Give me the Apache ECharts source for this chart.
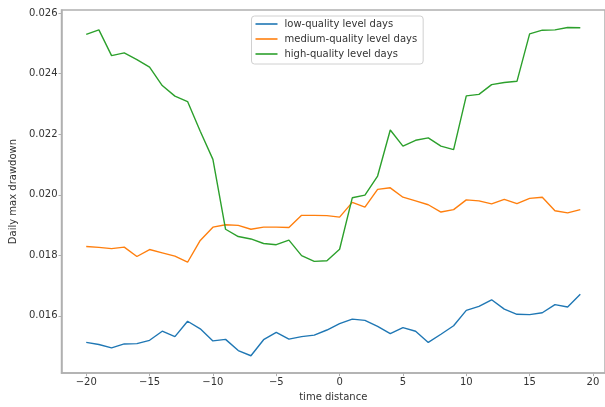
<!DOCTYPE html>
<html>
<head>
<meta charset="utf-8">
<script src="https://cdn.jsdelivr.net/npm/echarts@6/dist/echarts.min.js"></script>
<style>
  html, body { margin: 0; padding: 0; background: #fff; }
  #chart { width: 605px; height: 407px; }
</style>
</head>
<body>
<div id="chart"></div>
<script>
// Days relative to the event
const timeDistance = [];
for (let d = -20; d <= 19; d++) timeDistance.push(d);

const lowQuality = [
  0.01512, 0.01505, 0.01494, 0.01507, 0.01508, 0.01519, 0.01549, 0.01531, 0.01582, 0.01557,
  0.01517, 0.01522, 0.01485, 0.01468, 0.01521, 0.01545, 0.01523, 0.01531, 0.01536, 0.01553,
  0.01574, 0.01589, 0.01585, 0.01565, 0.01541, 0.01561, 0.01549, 0.01512, 0.01539, 0.01567,
  0.01618, 0.01631, 0.01653, 0.01622, 0.01605, 0.01604, 0.01610, 0.01637, 0.01629, 0.01671
];

const mediumQuality = [
  0.01829, 0.01826, 0.01822, 0.01827, 0.01796, 0.01819, 0.01808, 0.01797, 0.01777, 0.01849,
  0.01893, 0.01901, 0.01899, 0.01886, 0.01893, 0.01893, 0.01892, 0.01932, 0.01932, 0.01931,
  0.01926, 0.01975, 0.01959, 0.02018, 0.02023, 0.01992, 0.01980, 0.01967, 0.01943, 0.01951,
  0.01983, 0.01980, 0.01970, 0.01985, 0.01971, 0.01988, 0.01992, 0.01947, 0.01940, 0.01951
];

const highQuality = [
  0.02530, 0.02545, 0.02460, 0.02469, 0.02447, 0.02422, 0.02361, 0.02326, 0.02308, 0.02210,
  0.02117, 0.01886, 0.01862, 0.01854, 0.01839, 0.01835, 0.01850, 0.01799, 0.01780, 0.01782,
  0.01820, 0.01990, 0.01999, 0.02062, 0.02214, 0.02161, 0.02180, 0.02188, 0.02161, 0.02149,
  0.02327, 0.02332, 0.02364, 0.02371, 0.02375, 0.02532, 0.02544, 0.02545, 0.02553, 0.02552
];

const xTicks = [-20, -15, -10, -5, 0, 5, 10, 15, 20];
const yTicks = [0.016, 0.018, 0.020, 0.022, 0.024, 0.026];

const seriesNames = ['low-quality level days', 'medium-quality level days', 'high-quality level days'];
const seriesColors = ['#1f77b4', '#ff7f0e', '#2ca02c'];
const seriesValues = [lowQuality, mediumQuality, highQuality];

const FONT = 'DejaVu Sans';
const spineColor = '#b0b0b0';
const textColor = '#333';

const chart = echarts.init(document.getElementById('chart'), null, { renderer: 'canvas' });

chart.setOption({
  animation: false,
  backgroundColor: '#fff',
  grid: {
    left: 56.5, right: -9, top: 10, bottom: 26.7,
    show: true, borderColor: spineColor, borderWidth: 1.5,
    backgroundColor: 'transparent'
  },
  legend: {
    orient: 'vertical',
    left: 251.5, top: 16,
    width: 169,
    padding: [3, 6, 5, 4],
    itemGap: 5,
    itemWidth: 22, itemHeight: 1.6,
    icon: 'rect',
    borderColor: '#d0d0d0', borderWidth: 1, borderRadius: 3,
    backgroundColor: 'rgba(255,255,255,0.85)',
    textStyle: { fontFamily: FONT, fontSize: 10, color: textColor, padding: [0, 0, 0, 2] },
    data: seriesNames
  },
  xAxis: {
    type: 'value',
    min: -21.95, max: 20.95,
    name: 'time distance',
    nameLocation: 'middle', nameGap: 14,
    nameTextStyle: { fontFamily: FONT, fontSize: 10, color: textColor },
    axisLine: { show: true, onZero: false, lineStyle: { color: spineColor, width: 1.5 } },
    axisTick: { show: true, customValues: xTicks, length: 3, lineStyle: { color: spineColor } },
    axisLabel: {
      customValues: xTicks, margin: 4,
      fontFamily: FONT, fontSize: 10, color: textColor,
      formatter: v => (v < 0 ? '\u2212' + Math.abs(v) : String(v))
    },
    splitLine: { show: false }
  },
  yAxis: {
    type: 'value',
    min: 0.014106, max: 0.026107,
    name: 'Daily max drawdown',
    nameLocation: 'middle', nameGap: 41,
    nameTextStyle: { fontFamily: FONT, fontSize: 10, color: textColor },
    axisLine: { show: true, onZero: false, lineStyle: { color: spineColor, width: 1.5 } },
    axisTick: { show: true, customValues: yTicks, length: 3, lineStyle: { color: spineColor } },
    axisLabel: {
      customValues: yTicks, margin: 4,
      fontFamily: FONT, fontSize: 10, color: textColor,
      formatter: v => v.toFixed(3)
    },
    splitLine: { show: false }
  },
  series: seriesNames.map((name, k) => ({
    name: name,
    type: 'line',
    symbol: 'none',
    color: seriesColors[k],
    lineStyle: { width: 1.4, color: seriesColors[k] },
    data: timeDistance.map((d, i) => [d, seriesValues[k][i]])
  }))
});
</script>
</body>
</html>
